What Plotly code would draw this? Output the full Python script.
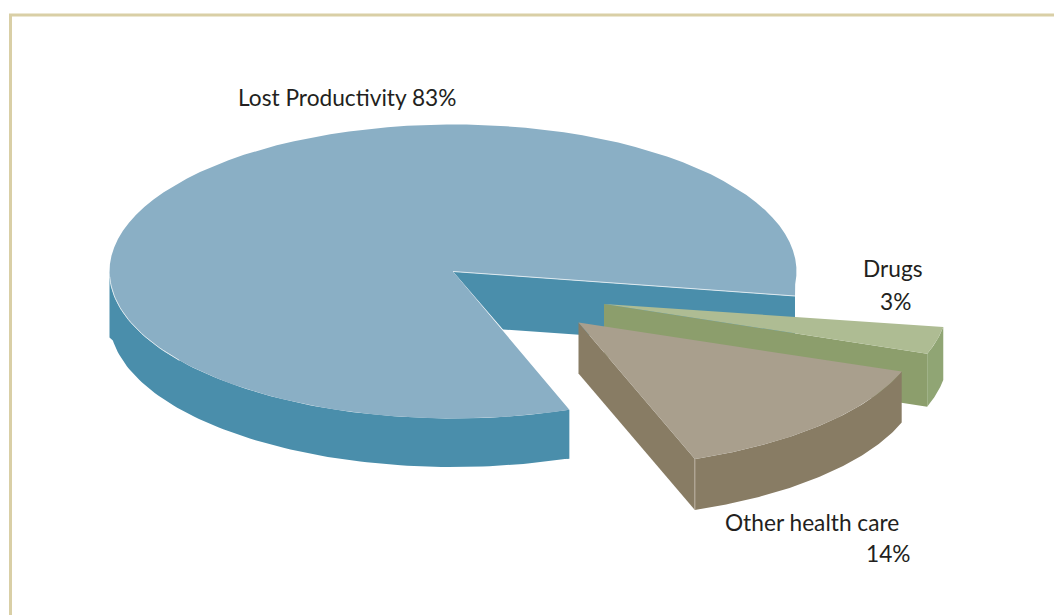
"""Exploded 3D-look pie, drawn as filled scatter polygons (go.Pie has no depth)."""
import numpy as np
import plotly.graph_objects as go

slice_names = ["Drugs", "Other health care", "Lost Productivity"]
slice_values = [3, 14, 83]

# look of the pie
RX = 343.5
RY = [147, 145, 147]
START_DEG = 9
TOP_COLORS = ["#AEBC93", "#A99F8D", "#8AAFC5"]
SIDE_COLORS = ["#8C9E6C", "#887C64", "#4A8EAB"]
RIM_COLORS = ["#90A574", "#887C64", "#4A8EAB"]
APEX = [(604, 304), (578.5, 322.5), (453, 271.5)]
DEPTH = [53, 51, 48.5]
FONT = "Lato, 'Open Sans', sans-serif"
TEXT_COLOR = "#231F20"
FRAME_COLOR = "#D9CFA6"


def arc(i, t0, t1, drop=0):
    t = np.radians(np.linspace(t0, t1, 90))
    return APEX[i][0] + RX * np.cos(t), APEX[i][1] + RY[i] * np.sin(t) + drop


def poly(fig, xs, ys, color):
    fig.add_trace(go.Scatter(
        x=list(xs), y=list(ys), mode="lines", fill="toself", fillcolor=color,
        line=dict(width=0, color=color), hoverinfo="skip", showlegend=False,
    ))


def edge(fig, xs, ys, color="#DDE9EF", width=1):
    fig.add_trace(go.Scatter(
        x=list(xs), y=list(ys), mode="lines", line=dict(width=width, color=color),
        hoverinfo="skip", showlegend=False,
    ))


# slice angles from the values
spans = [v / sum(slice_values) * 360 for v in slice_values]
edges = START_DEG + np.cumsum([0] + spans)

fig = go.Figure()

# ---- main slice (drawn first, the exploded ones sit on top)
a0, a1 = edges[2], edges[3]
ax, ay = APEX[2]
d = DEPTH[2]
cut_x, cut_y = ax + 342, ay + 24.5  # where the back cut meets the outer edge

# inner cut face behind the gap
poly(fig, [ax, cut_x, cut_x, ax + 50], [ay, cut_y, cut_y + 54, ay + 58], SIDE_COLORS[2])

# front rim, from the cut round to the left side
tx, ty = arc(2, a0, 180)
bx, by = arc(2, 172, a0, d)
poly(fig,
     np.r_[tx, ax - RX, bx, tx[0] - 15, tx[0], tx[0]],
     np.r_[ty, ay + 66, by, ty[0] + 49, ty[0] + 49, ty[0]],
     SIDE_COLORS[2])
tx, ty = arc(2, a0, a1 - 4)
poly(fig, np.r_[ax, tx, cut_x], np.r_[ay, ty, cut_y], TOP_COLORS[2])
lx, ly = arc(2, 70, 178)
edge(fig, lx[60:], ly[60:])
edge(fig, [ax, cut_x], [ay, cut_y])

# ---- drugs, then other health care
for i in [0, 1]:
    ax, ay = APEX[i]
    d = DEPTH[i]
    tx, ty = arc(i, edges[i], edges[i + 1])
    bx, by = arc(i, edges[i + 1], edges[i], d)
    poly(fig, [ax, tx[-1], tx[-1], ax], [ay, ty[-1], ty[-1] + d, ay + d], SIDE_COLORS[i])
    poly(fig, np.r_[tx, bx], np.r_[ty, by], RIM_COLORS[i])
    poly(fig, np.r_[ax, tx], np.r_[ay, ty], TOP_COLORS[i])
    if i == 1:
        edge(fig, [tx[-1], tx[-1]], [ty[-1], ty[-1] + d], "#C9C2B4", 0.8)

fig.update_layout(
    width=1054, height=615,
    margin=dict(l=0, r=0, t=0, b=0),
    paper_bgcolor="white", plot_bgcolor="white",
    showlegend=False,
    xaxis=dict(range=[0, 1054], visible=False, fixedrange=True),
    yaxis=dict(range=[615, 0], visible=False, fixedrange=True),
    shapes=[
        dict(type="line", x0=10.5, x1=10.5, y0=15, y1=615, line=dict(color=FRAME_COLOR, width=3)),
        dict(type="line", x0=9, x1=1054, y0=15, y1=15, line=dict(color=FRAME_COLOR, width=3)),
    ],
)

labels = [
    (f"{slice_names[2]} {slice_values[2]}%", 236, 97.5, "left"),
    (slice_names[0], 925, 268.5, "right"),
    (f"{slice_values[0]}%", 913, 301, "right"),
    (slice_names[1], 723, 522.5, "left"),
    (f"{slice_values[1]}%", 913, 553.5, "right"),
]
for text, x, y, anchor in labels:
    fig.add_annotation(
        x=x, y=y, text=text, showarrow=False, xanchor=anchor, yanchor="middle",
        font=dict(family=FONT, size=22.7, color=TEXT_COLOR),
    )

# drop the page's default margin so the figure fills the window
fig.write_html(
    "out.html",
    config={"displayModeBar": False},
    post_script="document.body.style.margin = '0';",
)
